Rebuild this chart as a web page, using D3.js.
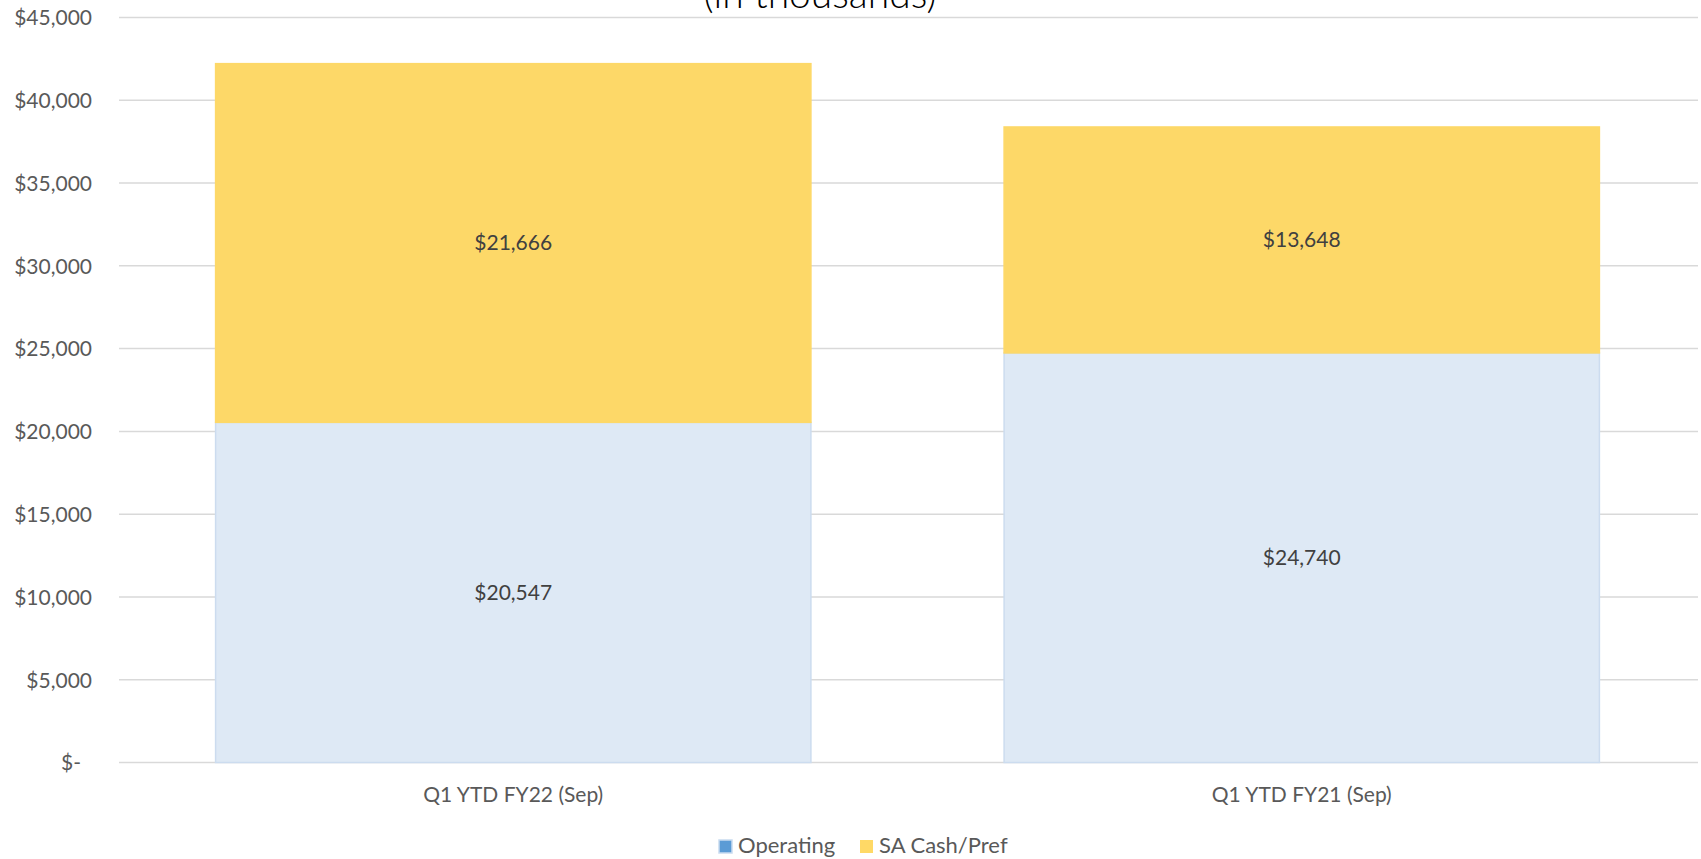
<!DOCTYPE html>
<html>
<head>
<meta charset="utf-8">
<script src="https://cdn.jsdelivr.net/npm/d3@7"></script>
<style>
  html, body { margin: 0; padding: 0; background: #fff; }
  svg { display: block; font-family: Lato, "Open Sans", sans-serif; }
</style>
</head>
<body>
<svg id="chart" width="1701" height="859"></svg>
<script>
const categories = ["Q1 YTD FY22 (Sep)", "Q1 YTD FY21 (Sep)"];
const seriesNames = ["Operating", "SA Cash/Pref"];
const operating = [20547, 24740];
const saCash = [21666, 13648];
const yTicks = [0, 5000, 10000, 15000, 20000, 25000, 30000, 35000, 40000, 45000];
const titleText = "(in thousands)";

const svg = d3.select("#chart");
const W = 1701, H = 859;
const m = { left: 119, right: 5, top: 17.5, bottom: 96.5 };

const x = d3.scaleBand().domain(categories).range([m.left, W - m.right]).paddingInner(0.245).paddingOuter(0.1225);
const y = d3.scaleLinear().domain([0, 45000]).range([H - m.bottom, m.top]);

const fmt = v => v === 0 ? "$-" : "$" + d3.format(",")(v);

// gridlines
svg.append("g").selectAll("line").data(yTicks).join("line")
  .attr("x1", m.left).attr("x2", W - 3)
  .attr("y1", d => y(d)).attr("y2", d => y(d))
  .attr("stroke", "#D9D9D9").attr("stroke-width", 1.5);

// y axis labels
const yAxis = d3.axisLeft(y).tickValues(yTicks).tickFormat(fmt).tickSize(0).tickPadding(0);
const yg = svg.append("g").attr("transform", `translate(${m.left - 27},0)`).call(yAxis);
yg.select(".domain").remove();
yg.selectAll("text").attr("font-size", 21).attr("fill", "#595959")
  .attr("font-family", "Lato, sans-serif").attr("dy", "0.35em");
yg.selectAll(".tick").filter(d => d === 0).select("text")
  .attr("text-anchor", "start").attr("x", 61 - (m.left - 27));

// stacked data
const rows = categories.map((c, i) => ({ cat: c, Operating: operating[i], "SA Cash/Pref": saCash[i] }));
const stack = d3.stack().keys(seriesNames)(rows);
const fills = { "Operating": "#DEE9F5", "SA Cash/Pref": "#FDD868" };
const strokes = { "Operating": "#CCDCEF", "SA Cash/Pref": "#FDD868" };

const layers = svg.append("g").selectAll("g").data(stack).join("g");
layers.selectAll("rect").data(d => d.map(p => ({ key: d.key, p }))).join("rect")
  .attr("x", d => x(d.p.data.cat))
  .attr("width", x.bandwidth())
  .attr("y", d => y(d.p[1]))
  .attr("height", d => y(d.p[0]) - y(d.p[1]))
  .attr("fill", d => fills[d.key])
  .attr("stroke", d => strokes[d.key]).attr("stroke-width", 1.5);

// data labels
layers.selectAll("text").data(d => d.map(p => ({ key: d.key, p }))).join("text")
  .attr("x", d => x(d.p.data.cat) + x.bandwidth() / 2)
  .attr("y", d => (y(d.p[0]) + y(d.p[1])) / 2)
  .attr("dy", "0.35em")
  .attr("text-anchor", "middle")
  .attr("font-size", 21).attr("fill", "#404040")
  .text(d => fmt(d.p[1] - d.p[0]));

// x axis labels
const xAxis = d3.axisBottom(x).tickSize(0).tickPadding(0);
const xg = svg.append("g").attr("transform", `translate(0,${y(0) + 32})`).call(xAxis);
xg.select(".domain").remove();
xg.selectAll("text").attr("font-size", 21).attr("fill", "#595959")
  .attr("font-family", "Lato, sans-serif").attr("dy", "0.35em");

// title (cut off at top, as in the source)
svg.append("text").attr("x", 820).attr("y", 8).attr("text-anchor", "middle")
  .attr("font-size", 39).attr("font-weight", 300).attr("fill", "#000").text(titleText);

// legend
const legendColors = { "Operating": "#5B9BD5", "SA Cash/Pref": "#FFD966" };
const legendX = [719, 860];
const lg = svg.append("g");
seriesNames.forEach((s, i) => {
  lg.append("rect").attr("x", legendX[i]).attr("y", 840).attr("width", 13).attr("height", 13)
    .attr("fill", legendColors[s])
    .attr("stroke", i === 0 ? "#C9DBF0" : "none").attr("stroke-width", 1.5);
  lg.append("text").attr("x", legendX[i] + 19).attr("y", 845).attr("dy", "0.35em")
    .attr("font-size", 22).attr("fill", "#595959").text(s);
});
</script>
</body>
</html>
